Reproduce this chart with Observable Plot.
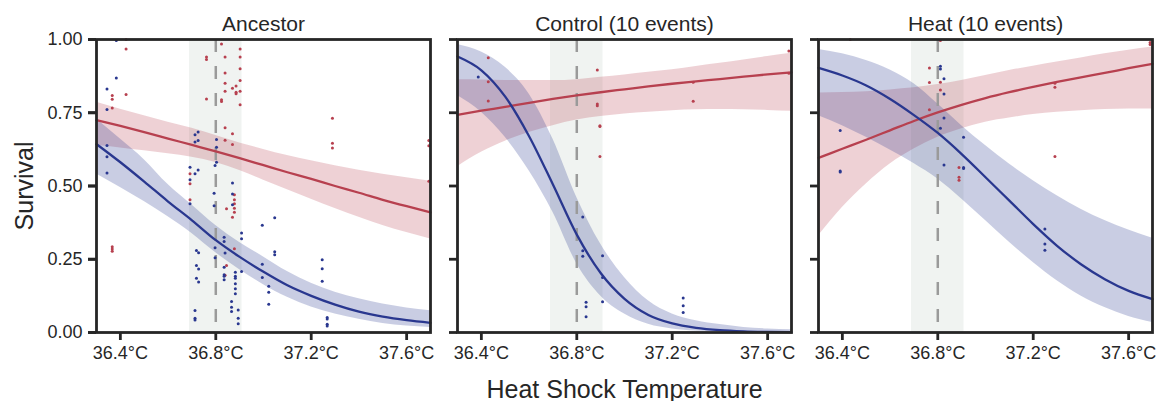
<!DOCTYPE html>
<html><head><meta charset="utf-8">
<script src="https://cdn.jsdelivr.net/npm/d3@7"></script>
<script src="https://cdn.jsdelivr.net/npm/@observablehq/plot@0.6"></script>
<style>body{margin:0;background:#fff} svg{display:block}</style>
</head><body><div id="chart"></div>
<script>
const panels = ["Ancestor", "Control (10 events)", "Heat (10 events)"];
const gridT = [36.3, 36.4, 36.5, 36.6, 36.7, 36.8, 36.9, 37.0, 37.1, 37.2, 37.3, 37.4, 37.5, 37.6, 37.7];
const xTicks = [36.4, 36.8, 37.2, 37.6];
const yTicks = [0, 0.25, 0.5, 0.75, 1];
const shadeRange = [36.69, 36.91];
const refTemp = 36.8;

// fitted curves — Ancestor
const ancRedFit = [0.725, 0.705, 0.684, 0.662, 0.640, 0.618, 0.595, 0.571, 0.547, 0.524, 0.500, 0.477, 0.453, 0.431, 0.410];
const ancRedHi  = [0.786, 0.762, 0.740, 0.718, 0.697, 0.672, 0.647, 0.625, 0.604, 0.586, 0.569, 0.554, 0.540, 0.528, 0.516];
const ancRedLo  = [0.638, 0.630, 0.620, 0.610, 0.598, 0.580, 0.553, 0.520, 0.487, 0.455, 0.423, 0.393, 0.365, 0.341, 0.319];
const ancBlueFit = [0.643, 0.581, 0.515, 0.447, 0.383, 0.315, 0.258, 0.207, 0.161, 0.125, 0.095, 0.071, 0.054, 0.042, 0.033];
const ancBlueHi  = [0.729, 0.660, 0.590, 0.505, 0.435, 0.365, 0.307, 0.258, 0.208, 0.168, 0.137, 0.115, 0.097, 0.084, 0.074];
const ancBlueLo  = [0.541, 0.495, 0.447, 0.395, 0.338, 0.272, 0.214, 0.163, 0.120, 0.087, 0.063, 0.045, 0.031, 0.022, 0.017];
// Control
const ctlRedFit = [0.743, 0.757, 0.770, 0.784, 0.797, 0.809, 0.820, 0.830, 0.840, 0.849, 0.857, 0.865, 0.873, 0.881, 0.888];
const ctlRedHi  = [0.863, 0.862, 0.860, 0.860, 0.860, 0.863, 0.871, 0.879, 0.888, 0.897, 0.908, 0.919, 0.930, 0.942, 0.953];
const ctlRedLo  = [0.566, 0.615, 0.653, 0.683, 0.706, 0.725, 0.737, 0.746, 0.752, 0.757, 0.760, 0.761, 0.760, 0.758, 0.755];
const ctlBlueFit = [0.942, 0.895, 0.805, 0.670, 0.505, 0.334, 0.203, 0.115, 0.060, 0.031, 0.016, 0.008, 0.004, 0.002, 0.001];
const ctlBlueHi  = [0.983, 0.957, 0.905, 0.814, 0.660, 0.461, 0.302, 0.188, 0.108, 0.063, 0.040, 0.027, 0.017, 0.012, 0.009];
const ctlBlueLo  = [0.809, 0.752, 0.666, 0.552, 0.410, 0.235, 0.125, 0.063, 0.028, 0.012, 0.005, 0.002, 0.001, 0.000, 0.000];
// Heat
const heatRedFit = [0.596, 0.627, 0.658, 0.690, 0.722, 0.751, 0.777, 0.800, 0.820, 0.838, 0.855, 0.871, 0.886, 0.902, 0.917];
const heatRedHi  = [0.817, 0.819, 0.822, 0.828, 0.835, 0.846, 0.860, 0.877, 0.894, 0.909, 0.923, 0.937, 0.951, 0.963, 0.974];
const heatRedLo  = [0.330, 0.427, 0.507, 0.575, 0.626, 0.666, 0.695, 0.718, 0.732, 0.744, 0.752, 0.757, 0.761, 0.763, 0.763];
const heatBlueFit = [0.903, 0.877, 0.843, 0.797, 0.742, 0.681, 0.609, 0.530, 0.450, 0.370, 0.296, 0.233, 0.182, 0.142, 0.114];
const heatBlueHi  = [0.966, 0.951, 0.928, 0.896, 0.849, 0.780, 0.706, 0.638, 0.575, 0.518, 0.467, 0.421, 0.382, 0.350, 0.322];
const heatBlueLo  = [0.740, 0.706, 0.666, 0.623, 0.577, 0.524, 0.456, 0.382, 0.308, 0.239, 0.177, 0.125, 0.085, 0.055, 0.034];

// observed points: temperatures and survival values at each
const ancBlueTemps = [36.383, 36.344, 36.692, 36.713, 36.726, 36.719, 36.728, 36.793, 36.803, 36.797, 36.835, 36.839, 36.870, 36.882, 36.866, 36.894, 36.908, 36.995, 37.022, 37.047, 37.246, 37.267];
const ancBlueVals = [[0.997,0.869],[0.831,0.761,0.638,0.600,0.544],[0.564,0.521,0.439],[0.675,0.650,0.542,0.075,0.049,0.043],[0.684,0.655,0.555],[0.280,0.229,0.185],[0.272,0.217,0.172],[0.475,0.433],[0.659,0.632,0.581],[0.570,0.289,0.255],[0.325,0.311,0.223,0.197,0.192,0.180],[0.271],[0.510,0.473,0.436],[0.206,0.192,0.185,0.166,0.149,0.132],[0.106,0.086,0.072],[0.077,0.049,0.030],[0.340,0.320,0.208],[0.366,0.233,0.188],[0.158,0.137,0.096],[0.392,0.276,0.265],[0.248,0.218,0.175],[0.051,0.046,0.028,0.022]];
const ancRedTemps = [36.424, 36.366, 36.692, 36.761, 36.824, 36.839, 36.870, 36.885, 36.902, 36.878, 36.845, 37.289, 37.693];
const ancRedVals = [[1.0,0.968,0.812],[0.809,0.796,0.766,0.293,0.285,0.277],[0.542,0.508,0.453],[0.940,0.932,0.797],[0.985,0.794,0.788],[0.940,0.886,0.851,0.823,0.699,0.656,0.195],[0.834,0.678,0.642,0.393],[0.841,0.820,0.815],[0.968,0.940,0.900,0.860,0.823,0.777],[0.470,0.453,0.439,0.424,0.410,0.286],[0.422,0.229],[0.731,0.646,0.630],[0.655,0.637,0.516]];
const ctlBlueTemps = [36.387, 36.825, 36.839, 36.908, 37.246];
const ctlBlueVals = [[0.872],[0.394,0.279,0.260],[0.103,0.088,0.054],[0.262,0.188,0.105],[0.118,0.091,0.068]];
const ctlRedTemps = [36.429, 36.886, 36.897, 37.288, 37.689];
const ctlRedVals = [[0.938,0.856,0.790],[0.896,0.780,0.774],[0.706,0.703,0.601],[0.854,0.789],[0.961,0.885]];
const heatBlueTemps = [36.391, 36.811, 36.826, 36.908, 37.249];
const heatBlueVals = [[0.689,0.551,0.548],[0.909,0.899,0.697],[0.866,0.814,0.732,0.572],[0.666,0.563,0.560],[0.353,0.302,0.281]];
const heatRedTemps = [36.433, 36.765, 36.811, 36.889, 37.291, 37.690];
const heatRedVals = [[1.0],[0.903,0.853,0.760],[0.997,0.854,0.828],[0.563,0.530,0.520],[0.851,0.837,0.601],[0.990,0.983]];

const RED = "#b7404f", BLUE = "#29378f", INK = "#262626";

function fitRows(panel, series, fit, lo, hi) {
  return gridT.map((t, i) => ({panel, series, t, fit: fit[i], lo: lo[i], hi: hi[i]}));
}
function ptRows(panel, series, temps, vals) {
  return temps.flatMap((t, i) => vals[i].map(v => ({panel, series, t, v})));
}
const redFits = [
  ...fitRows(panels[0], "red", ancRedFit, ancRedLo, ancRedHi),
  ...fitRows(panels[1], "red", ctlRedFit, ctlRedLo, ctlRedHi),
  ...fitRows(panels[2], "red", heatRedFit, heatRedLo, heatRedHi)];
const blueFits = [
  ...fitRows(panels[0], "blue", ancBlueFit, ancBlueLo, ancBlueHi),
  ...fitRows(panels[1], "blue", ctlBlueFit, ctlBlueLo, ctlBlueHi),
  ...fitRows(panels[2], "blue", heatBlueFit, heatBlueLo, heatBlueHi)];
const redPts = [
  ...ptRows(panels[0], "red", ancRedTemps, ancRedVals),
  ...ptRows(panels[1], "red", ctlRedTemps, ctlRedVals),
  ...ptRows(panels[2], "red", heatRedTemps, heatRedVals)];
const bluePts = [
  ...ptRows(panels[0], "blue", ancBlueTemps, ancBlueVals),
  ...ptRows(panels[1], "blue", ctlBlueTemps, ctlBlueVals),
  ...ptRows(panels[2], "blue", heatBlueTemps, heatBlueVals)];
const panelRows = panels.map(p => ({panel: p, x1: shadeRange[0], x2: shadeRange[1], ref: refTemp}));

const chart = Plot.plot({
  width: 1164, height: 401,
  marginLeft: 95, marginRight: 11, marginTop: 39, marginBottom: 69,
  style: {fontFamily: "'Liberation Sans', Arial, sans-serif", color: INK, background: "white"},
  fx: {domain: panels, paddingInner: 0.075, paddingOuter: 0, label: null},
  x: {domain: [36.3, 37.7], label: null},
  y: {domain: [0, 1], label: null},
  marks: [
    Plot.rect(panelRows, {fx: "panel", x1: "x1", x2: "x2", y1: 0, y2: 1, fill: "#f0f3f1"}),
    Plot.areaY(redFits, {fx: "panel", x: "t", y1: "lo", y2: "hi", fill: RED, fillOpacity: 0.24, curve: "monotone-x"}),
    Plot.areaY(blueFits, {fx: "panel", x: "t", y1: "lo", y2: "hi", fill: BLUE, fillOpacity: 0.25, curve: "monotone-x"}),
    Plot.ruleX(panelRows, {fx: "panel", x: "ref", y1: 1, y2: 0, stroke: "#9a9a9a", strokeWidth: 2.5, strokeDasharray: "13,14"}),
    Plot.dot(redPts, {fx: "panel", x: "t", y: "v", r: 1.5, fill: RED, stroke: "none"}),
    Plot.dot(bluePts, {fx: "panel", x: "t", y: "v", r: 1.5, fill: BLUE, stroke: "none"}),
    Plot.line(redFits, {fx: "panel", x: "t", y: "fit", stroke: RED, strokeWidth: 2.3, curve: "monotone-x"}),
    Plot.line(blueFits, {fx: "panel", x: "t", y: "fit", stroke: BLUE, strokeWidth: 2.3, curve: "monotone-x"}),
    Plot.axisFx({anchor: "top", tickSize: 0, tickPadding: 9, fontSize: 21, label: null}),
    Plot.axisX({ticks: xTicks, tickFormat: d => d.toFixed(1) + "°C", tickSize: 8, tickPadding: 6, fontSize: 18, strokeWidth: 2.8, stroke: INK, fill: INK, label: null}),
    Plot.axisY({ticks: yTicks, facetAnchor: null, fill: "none", tickSize: 8, strokeWidth: 2.8, stroke: INK, label: null}),
    Plot.axisY({ticks: yTicks, tickFormat: d => d.toFixed(2), tickSize: 8, tickPadding: 6, fontSize: 18, strokeWidth: 2.8, stroke: INK, fill: INK, label: null}),
    Plot.frame({stroke: INK, strokeWidth: 2.8}),
    Plot.text([{panel: panels[1]}], {fx: "panel", text: () => "Heat Shock Temperature", frameAnchor: "bottom", dy: 65, lineAnchor: "bottom", fontSize: 25, fill: INK}),
    Plot.text([{panel: panels[0]}], {fx: "panel", text: () => "Survival", frameAnchor: "left", dx: -72, rotate: -90, lineAnchor: "middle", textAnchor: "middle", fontSize: 25, fill: INK})
  ]
});
document.getElementById("chart").appendChild(chart);
</script>
</body></html>
